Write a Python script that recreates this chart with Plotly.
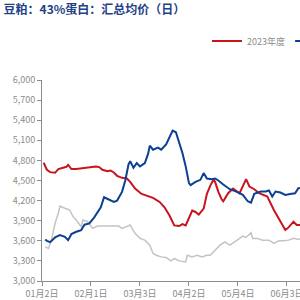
import plotly.graph_objects as go

# x = trading-day index from 01月2日
red_x = [1, 3, 5, 8, 10, 13, 15, 16, 18, 21, 25, 29, 33, 35, 37, 40, 42, 44, 46, 49, 52, 54, 57, 61, 64, 68, 72, 75, 78, 80, 81, 84, 86, 88, 90, 92, 94, 96, 99, 101, 103, 105, 106, 108, 110, 111, 114, 117, 121, 123, 125, 127, 130, 133, 138, 142, 146, 149, 151, 154, 156, 158]
red_y = [4765, 4660, 4625, 4615, 4670, 4690, 4705, 4735, 4671, 4670, 4680, 4700, 4710, 4700, 4660, 4640, 4650, 4620, 4570, 4540, 4530, 4480, 4380, 4300, 4270, 4240, 4180, 4100, 3980, 3870, 3830, 3820, 3850, 3830, 3930, 4050, 4030, 3990, 4080, 4300, 4420, 4510, 4480, 4330, 4220, 4190, 4310, 4380, 4310, 4410, 4520, 4410, 4370, 4310, 4260, 4060, 3885, 3760, 3800, 3885, 3835, 3835]

blue_x = [2, 3, 5, 8, 11, 14, 16, 18, 21, 24, 26, 29, 32, 36, 38, 40, 44, 46, 49, 51, 53, 54, 56, 58, 60, 63, 65, 66, 68, 71, 73, 76, 78, 80, 82, 84, 86, 88, 90, 91, 94, 97, 99, 101, 104, 106, 108, 111, 115, 119, 123, 126, 128, 130, 134, 137, 139, 141, 143, 146, 149, 152, 155, 157, 158]
blue_y = [3620, 3600, 3580, 3650, 3685, 3660, 3610, 3700, 3735, 3760, 3840, 3860, 3950, 4100, 4250, 4230, 4180, 4200, 4330, 4500, 4740, 4790, 4690, 4760, 4710, 4760, 4900, 5020, 4960, 4990, 4960, 5040, 5140, 5245, 5220, 5060, 4910, 4710, 4460, 4430, 4480, 4510, 4610, 4530, 4520, 4530, 4500, 4440, 4370, 4335, 4285, 4190, 4170, 4300, 4335, 4335, 4350, 4260, 4335, 4320, 4285, 4300, 4310, 4386, 4390]

gray_x = [2, 4, 6, 8, 10, 11, 14, 17, 19, 21, 24, 25, 28, 31, 34, 38, 42, 47, 49, 51, 53, 54, 55, 57, 60, 63, 66, 68, 70, 73, 76, 79, 81, 84, 88, 89, 92, 95, 98, 101, 103, 105, 109, 112, 115, 118, 121, 123, 125, 128, 129, 132, 135, 139, 142, 145, 148, 151, 154, 157, 158]
gray_y = [3510, 3486, 3636, 3861, 4011, 4120, 4086, 4060, 3960, 3910, 3810, 3910, 3885, 3786, 3820, 3820, 3820, 3820, 3786, 3810, 3835, 3835, 3790, 3711, 3636, 3610, 3535, 3411, 3385, 3360, 3350, 3300, 3336, 3300, 3285, 3385, 3360, 3385, 3360, 3385, 3385, 3435, 3535, 3585, 3535, 3585, 3636, 3670, 3650, 3720, 3636, 3636, 3610, 3610, 3561, 3600, 3600, 3610, 3636, 3620, 3630]

tick_pos = [0, 30, 60, 90, 120, 150]
tick_labels = ["01月2日", "02月1日", "03月3日", "04月2日", "05月4日", "06月3日"]

fig = go.Figure()
fig.add_trace(go.Scatter(x=gray_x, y=gray_y, mode="lines", name="2022年度",
                         line=dict(color="#c4c4c4", width=1.5), showlegend=False))
fig.add_trace(go.Scatter(x=red_x, y=red_y, mode="lines", name="2023年度",
                         line=dict(color="#c8141e", width=2), legend="legend"))
fig.add_trace(go.Scatter(x=blue_x, y=blue_y, mode="lines", name="2024年度",
                         line=dict(color="#0d3f94", width=2), legend="legend2"))

axis_col = "#8c8c8c"
fig.update_layout(
    width=300, height=300,
    margin=dict(l=42, r=0, t=80, b=19),
    paper_bgcolor="white", plot_bgcolor="white",
    font=dict(family="Noto Sans CJK SC, DejaVu Sans", size=9, color="#8c8c8c"),
    title=dict(text="<b>豆粕：43%蛋白：汇总均价（日）</b>", x=0.012, xanchor="left",
               y=0.968, yanchor="middle",
               font=dict(family="Noto Sans CJK SC", size=12, color="#1f3f86")),
    legend=dict(orientation="h", xref="container", yref="container",
                x=0.69, xanchor="left", y=0.863, yanchor="middle",
                font=dict(size=9, color="#8c8c8c"), bgcolor="rgba(0,0,0,0)"),
    legend2=dict(orientation="h", xref="container", yref="container",
                 x=0.967, xanchor="left", y=0.863, yanchor="middle",
                 font=dict(size=9, color="#8c8c8c"), bgcolor="rgba(0,0,0,0)"),
    xaxis=dict(range=[0, 158], tickvals=tick_pos, ticktext=tick_labels,
               showgrid=False, zeroline=False, showline=True, linecolor=axis_col,
               linewidth=1, ticks="outside", ticklen=4, tickcolor=axis_col,
               ticklabeloverflow="allow",
               tickfont=dict(size=9, color="#8c8c8c"), automargin=False),
    yaxis=dict(range=[3000, 6000], dtick=300, tick0=3000, tickformat=",",
               showgrid=False, zeroline=False, showline=True, linecolor=axis_col,
               linewidth=1, ticks="outside", ticklen=4, tickcolor=axis_col,
               tickfont=dict(size=9, color="#8c8c8c"), automargin=False),
)

fig.write_html("out.html")
